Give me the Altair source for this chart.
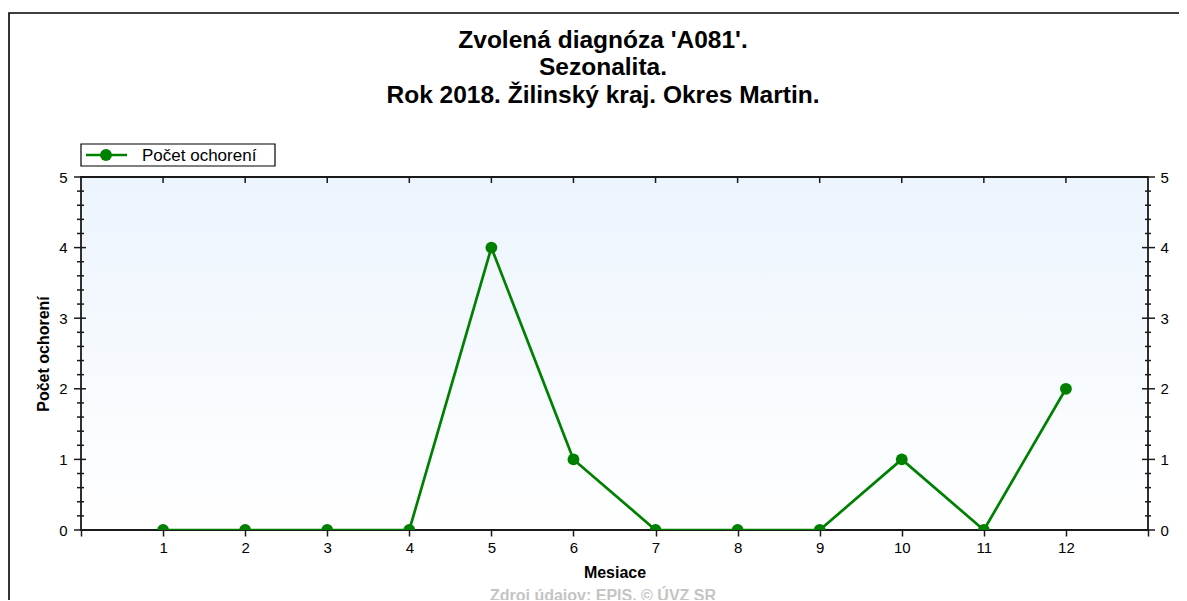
import altair as alt
import pandas as pd

# ---- data ----
months = [1, 2, 3, 4, 5, 6, 7, 8, 9, 10, 11, 12]
cases = [0, 0, 0, 0, 4, 1, 0, 0, 0, 1, 0, 2]
title_lines = ["Zvolená diagnóza 'A081'.", "Sezonalita.", "Rok 2018. Žilinský kraj. Okres Martin."]
series_name = "Počet ochorení"
x_title = "Mesiace"
y_title = "Počet ochorení"
source_text = "Zdroj údajov: EPIS, © ÚVZ SR"
x_tick_values = list(range(0, 14))
y_major = [0, 1, 2, 3, 4, 5]
y_minor = [0.2, 0.4, 0.6, 0.8, 1.2, 1.4, 1.6, 1.8, 2.2, 2.4, 2.6, 2.8,
           3.2, 3.4, 3.6, 3.8, 4.2, 4.4, 4.6, 4.8]

# ---- layout / style ----
W, H = 1067, 353
FONT = "Liberation Sans"
GREEN = "#008000"
AX = "#1a1a1a"

df = pd.DataFrame({"month": months, "cases": cases})
one = pd.DataFrame({"a": [0]})
xs = alt.Scale(domain=[0, 13], nice=False, zero=False)
ys = alt.Scale(domain=[0, 5], nice=False)

bg = alt.Chart(one).mark_rect(
    fill=alt.Gradient(gradient="linear",
                      stops=[alt.GradientStop(color="#ecf4fd", offset=0),
                             alt.GradientStop(color="#ffffff", offset=1)],
                      x1=0, x2=0, y1=0, y2=1),
).encode(x=alt.value(0), x2=alt.value(W), y=alt.value(0), y2=alt.value(H))

plot_border = alt.Chart(one).mark_rect(fill=None, stroke=AX, strokeWidth=1.8).encode(
    x=alt.value(0), x2=alt.value(W), y=alt.value(0), y2=alt.value(H))

x_axis = alt.Axis(
    values=x_tick_values,
    labelExpr="datum.value >= 1 && datum.value <= 12 ? datum.label : ''",
    domain=False, grid=False, ticks=True, tickSize=6, tickWidth=1.5, tickColor=AX,
    labelFont=FONT, labelFontSize=15, labelColor="#000", labelPadding=4, labelFlush=False,
    title=x_title, titleFont=FONT, titleFontSize=16, titleFontWeight="bold", titleColor="#000",
    titleY=47, titleBaseline="alphabetic",
)
y_axis_left = alt.Axis(
    values=y_major, domain=False, grid=False, ticks=False, labelPadding=14,
    labelFont=FONT, labelFontSize=15, labelColor="#000",
    title=y_title, titleFont=FONT, titleFontSize=16, titleFontWeight="bold", titleColor="#000",
    titleX=-33, titleBaseline="alphabetic", titleAngle=270,
)

line = alt.Chart(df).mark_line(color=GREEN, strokeWidth=2.7, clip=True).encode(
    x=alt.X("month:Q", scale=xs, axis=x_axis),
    y=alt.Y("cases:Q", scale=ys, axis=y_axis_left),
)
pts = alt.Chart(df).mark_point(filled=True, size=140, color=GREEN, opacity=1, clip=True).encode(
    x=alt.X("month:Q", scale=xs, axis=None),
    y=alt.Y("cases:Q", scale=ys, axis=None),
)

maj = pd.DataFrame({"v": y_major})
mnr = pd.DataFrame({"v": y_minor})
top = pd.DataFrame({"m": months})

l_major = alt.Chart(maj).mark_rule(color=AX, strokeWidth=1.5).encode(
    y=alt.Y("v:Q", scale=ys, axis=None), x=alt.value(-7), x2=alt.value(5))
l_minor = alt.Chart(mnr).mark_rule(color=AX, strokeWidth=1.5).encode(
    y=alt.Y("v:Q", scale=ys, axis=None), x=alt.value(-4), x2=alt.value(3))
r_major = alt.Chart(maj).mark_rule(color=AX, strokeWidth=1.5).encode(
    y=alt.Y("v:Q", scale=ys, axis=alt.Axis(
        orient="right", values=y_major, domain=False, grid=False, ticks=False,
        labelPadding=12, labelFont=FONT, labelFontSize=15, labelColor="#000", title=None)),
    x=alt.value(W - 6), x2=alt.value(W + 7))
r_minor = alt.Chart(mnr).mark_rule(color=AX, strokeWidth=1.5).encode(
    y=alt.Y("v:Q", scale=ys, axis=None), x=alt.value(W - 3), x2=alt.value(W + 3))
t_ticks = alt.Chart(top).mark_rule(color=AX, strokeWidth=1.5).encode(
    x=alt.X("m:Q", scale=xs, axis=None), y=alt.value(0), y2=alt.value(6))


def text_layer(s, x, y, **kw):
    return alt.Chart(pd.DataFrame({"t": [s]})).mark_text(font=FONT, **kw).encode(
        text="t:N", x=alt.value(x), y=alt.value(y))


titles = [
    text_layer(title_lines[0], 522, -129, fontSize=24.5, fontWeight="bold", align="center",
               baseline="alphabetic", color="#000"),
    text_layer(title_lines[1], 522, -102, fontSize=24.5, fontWeight="bold", align="center",
               baseline="alphabetic", color="#000"),
    text_layer(title_lines[2], 522, -74, fontSize=24.5, fontWeight="bold", align="center",
               baseline="alphabetic", color="#000"),
]

source = text_layer(source_text, 522, 424, fontSize=16, fontWeight="bold", align="center",
                    baseline="alphabetic", color="#c4c4c4")

# outer frame
frame = alt.Chart(one).mark_rect(fill=None, stroke="#000", strokeWidth=1.6).encode(
    x=alt.value(-72), x2=alt.value(W + 200), y=alt.value(-164), y2=alt.value(H + 200))

# legend
leg_box = alt.Chart(one).mark_rect(fill="#fff", stroke="#000", strokeWidth=1.2).encode(
    x=alt.value(0), x2=alt.value(194), y=alt.value(-33), y2=alt.value(-11))
leg_line = alt.Chart(one).mark_rule(color=GREEN, strokeWidth=2.7).encode(
    x=alt.value(5), x2=alt.value(46), y=alt.value(-22))
leg_pt = alt.Chart(one).mark_point(filled=True, size=140, color=GREEN, opacity=1).encode(
    x=alt.value(25), y=alt.value(-22))
leg_txt = text_layer(series_name, 61, -16, fontSize=17, align="left",
                     baseline="alphabetic", color="#000")

chart = alt.layer(
    frame, bg, plot_border, l_minor, l_major, r_minor, r_major, t_ticks, line, pts,
    *titles, source, leg_box, leg_line, leg_pt, leg_txt,
).resolve_axis(y="independent", x="independent").properties(
    width=W, height=H,
    padding={"left": 73, "top": 169, "right": 31, "bottom": 70},
    autosize=alt.AutoSizeParams(type="none"),
).configure_view(stroke=None).configure(background="white")

chart.save("out.html", embed_options={"renderer": "svg", "actions": False})
